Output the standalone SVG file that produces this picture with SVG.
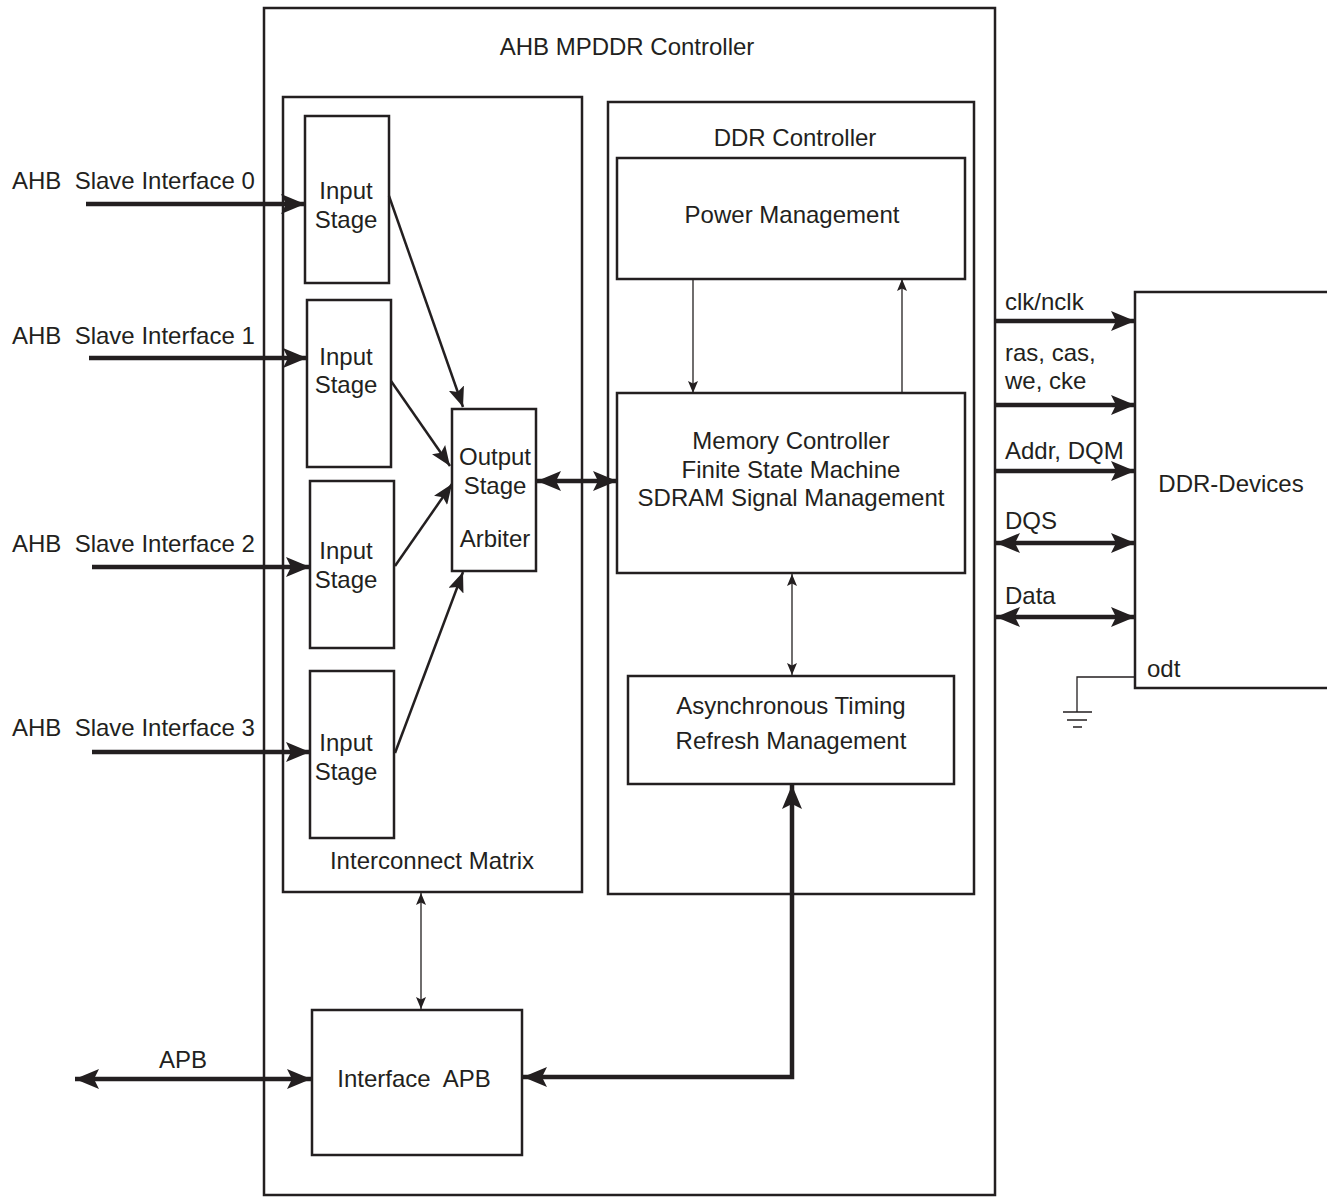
<svg xmlns="http://www.w3.org/2000/svg" width="1327" height="1197" viewBox="0 0 1327 1197">
<style>
text{font-family:"Liberation Sans",Arial,sans-serif;font-size:24px;fill:#231f20;white-space:pre}
.c{text-anchor:middle}
.box{fill:none;stroke:#231f20;stroke-width:2.5}
.thick{fill:none;stroke:#231f20;stroke-width:4.5}
.med{fill:none;stroke:#231f20;stroke-width:2.5}
.thin{fill:none;stroke:#231f20;stroke-width:1.3}
</style>
<defs>
<marker id="aT" markerUnits="userSpaceOnUse" markerWidth="24" markerHeight="20" viewBox="0 0 24 20" refX="24" refY="10" orient="auto-start-reverse"><path d="M0,0 L24,10 L0,20 L5,10 Z" fill="#231f20"/></marker>
<marker id="aM" markerUnits="userSpaceOnUse" markerWidth="20" markerHeight="16" viewBox="0 0 20 16" refX="20" refY="8" orient="auto-start-reverse"><path d="M0,0 L20,8 L0,16 L4,8 Z" fill="#231f20"/></marker>
<marker id="aS" markerUnits="userSpaceOnUse" markerWidth="12" markerHeight="10" viewBox="0 0 12 10" refX="12" refY="5" orient="auto-start-reverse"><path d="M0,0 L12,5 L0,10 L2.5,5 Z" fill="#231f20"/></marker>
</defs>

<g id="mpddr-controller">
<rect class="box" x="264" y="8" width="731" height="1187"/>
<text class="c" x="627" y="55">AHB MPDDR Controller</text>
</g>

<g id="interconnect-matrix">
<rect class="box" x="283" y="97" width="299" height="795"/>
<text class="c" x="432" y="869">Interconnect Matrix</text>
</g>

<g id="input-stage-0">
<rect class="box" x="305" y="116" width="84" height="167"/>
<text class="c" x="346" y="199">Input</text>
<text class="c" x="346" y="228">Stage</text>
</g>
<g id="input-stage-1">
<rect class="box" x="307" y="300" width="84" height="167"/>
<text class="c" x="346" y="365">Input</text>
<text class="c" x="346" y="393">Stage</text>
</g>
<g id="input-stage-2">
<rect class="box" x="310" y="481" width="84" height="167"/>
<text class="c" x="346" y="559">Input</text>
<text class="c" x="346" y="588">Stage</text>
</g>
<g id="input-stage-3">
<rect class="box" x="310" y="671" width="84" height="167"/>
<text class="c" x="346" y="751">Input</text>
<text class="c" x="346" y="780">Stage</text>
</g>

<g id="output-stage">
<rect class="box" x="452" y="409" width="84" height="162"/>
<text class="c" x="495" y="465">Output</text>
<text class="c" x="495" y="494">Stage</text>
<text class="c" x="495" y="547">Arbiter</text>
</g>

<g id="ddr-controller">
<rect class="box" x="608" y="102" width="366" height="792"/>
<text class="c" x="795" y="146">DDR Controller</text>
</g>

<g id="power-management">
<rect class="box" x="617" y="158" width="348" height="121"/>
<text class="c" x="792" y="223">Power Management</text>
</g>

<g id="memory-controller">
<rect class="box" x="617" y="393" width="348" height="180"/>
<text class="c" x="791" y="449">Memory Controller</text>
<text class="c" x="791" y="478">Finite State Machine</text>
<text class="c" x="791" y="506">SDRAM Signal Management</text>
</g>

<g id="async-timing">
<rect class="box" x="628" y="676" width="326" height="108"/>
<text class="c" x="791" y="714">Asynchronous Timing</text>
<text class="c" x="791" y="749">Refresh Management</text>
</g>

<g id="interface-apb">
<rect class="box" x="312" y="1010" width="210" height="145"/>
<text class="c" x="414" y="1087">Interface  APB</text>
</g>

<g id="ddr-devices">
<path class="box" d="M1330,292 H1135 V688 H1330"/>
<text class="c" x="1231" y="492">DDR-Devices</text>
<text x="1147" y="677">odt</text>
</g>

<g id="ground">
<path class="thin" d="M1135,677 H1077 V712"/>
<path class="thin" d="M1063,712 H1092 M1067,720 H1087 M1073,727 H1082"/>
</g>

<g id="connectors">
<path class="thick" d="M86,204 H305" marker-end="url(#aT)"/>
<path class="thick" d="M89,358 H307" marker-end="url(#aT)"/>
<path class="thick" d="M92,567 H310" marker-end="url(#aT)"/>
<path class="thick" d="M92,752 H310" marker-end="url(#aT)"/>

<path class="med" d="M389,196 L463,407" marker-end="url(#aM)"/>
<path class="med" d="M391,381 L450,466" marker-end="url(#aM)"/>
<path class="med" d="M395,566 L452,484" marker-end="url(#aM)"/>
<path class="med" d="M395,753 L463,572" marker-end="url(#aM)"/>

<path class="thick" d="M537,481 H617" marker-start="url(#aT)" marker-end="url(#aT)"/>

<path class="thin" d="M693,279 V393" marker-end="url(#aS)"/>
<path class="thin" d="M902,393 V279" marker-end="url(#aS)"/>
<path class="thin" d="M792,574 V675" marker-start="url(#aS)" marker-end="url(#aS)"/>
<path class="thin" d="M421,893 V1009" marker-start="url(#aS)" marker-end="url(#aS)"/>

<path class="thick" d="M523,1077 H792 V785" marker-start="url(#aT)" marker-end="url(#aT)"/>
<path class="thick" d="M75,1079 H311" marker-start="url(#aT)" marker-end="url(#aT)"/>

<path class="thick" d="M995,321 H1135" marker-end="url(#aT)"/>
<path class="thick" d="M995,405 H1135" marker-end="url(#aT)"/>
<path class="thick" d="M995,471 H1135" marker-end="url(#aT)"/>
<path class="thick" d="M996,543 H1135" marker-start="url(#aT)" marker-end="url(#aT)"/>
<path class="thick" d="M996,617 H1135" marker-start="url(#aT)" marker-end="url(#aT)"/>
</g>

<g id="labels">
<text x="12" y="189">AHB  Slave Interface 0</text>
<text x="12" y="344">AHB  Slave Interface 1</text>
<text x="12" y="552">AHB  Slave Interface 2</text>
<text x="12" y="736">AHB  Slave Interface 3</text>
<text class="c" x="183" y="1068">APB</text>
<text x="1005" y="310">clk/nclk</text>
<text x="1005" y="361">ras, cas,</text>
<text x="1005" y="389">we, cke</text>
<text x="1005" y="459">Addr, DQM</text>
<text x="1005" y="529">DQS</text>
<text x="1005" y="604">Data</text>
</g>
</svg>
